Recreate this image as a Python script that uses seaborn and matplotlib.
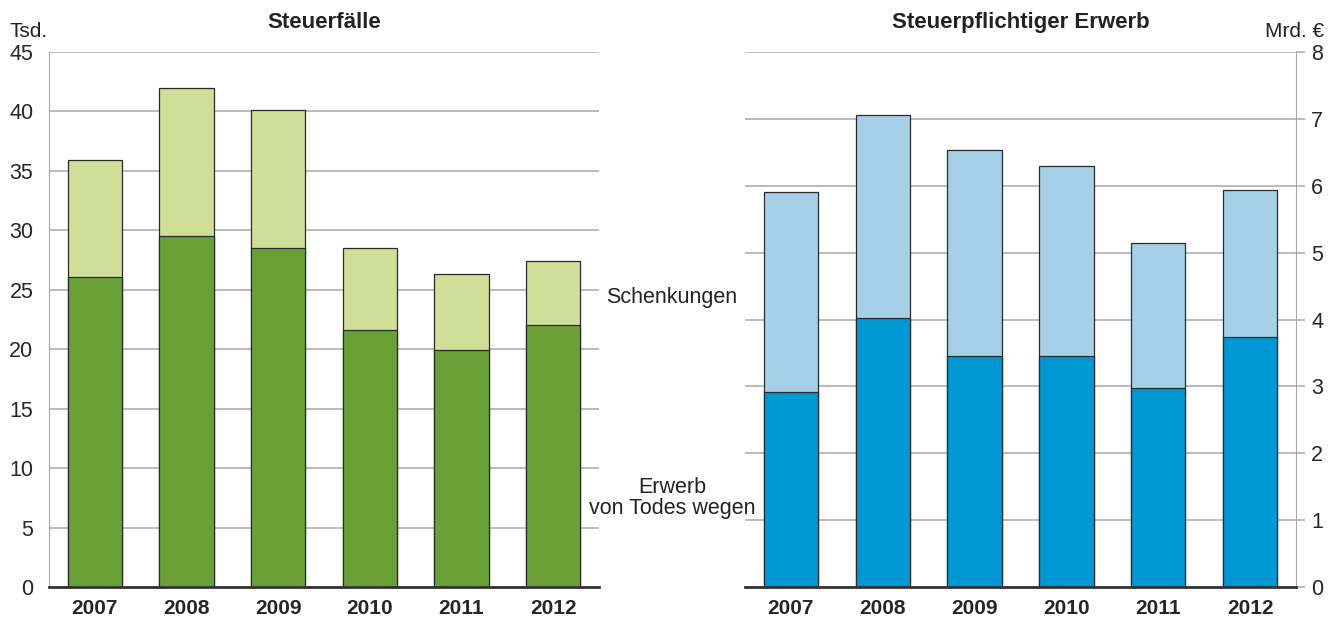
import matplotlib.pyplot as plt
import seaborn as sns

# Data
years = ["2007", "2008", "2009", "2010", "2011", "2012"]

# Steuerfälle (Tsd.)
faelle_todes = [26.1, 29.5, 28.5, 21.6, 19.9, 22.0]
faelle_gesamt = [35.9, 42.0, 40.1, 28.5, 26.35, 27.4]

# Steuerpflichtiger Erwerb (Mrd. €)
erwerb_todes = [2.92, 4.02, 3.45, 3.46, 2.98, 3.74]
erwerb_gesamt = [5.91, 7.06, 6.53, 6.29, 5.15, 5.93]

GREEN_DARK = "#6aa136"
GREEN_LIGHT = "#d0de98"
BLUE_DARK = "#0098d4"
BLUE_LIGHT = "#a5d0e8"
GRID = "#a8a8a8"
EDGE = "#2a2a2a"

W, H = 1336, 623

sns.set_style("white")
plt.rcParams["font.family"] = ["Liberation Sans", "DejaVu Sans"]
plt.rcParams["text.color"] = "#222222"

fig = plt.figure(figsize=(W / 100, H / 100), dpi=100)
# axes placed in pixel terms: left panel 49..599, right panel 745..1296, y 52..587
ax1 = fig.add_axes([49 / W, 1 - 587 / H, 550 / W, 535 / H])
ax2 = fig.add_axes([745 / W, 1 - 587 / H, 551 / W, 535 / H])


def stacked(ax, total, lower, light, dark):
    sns.barplot(x=years, y=total, color=light, width=0.59, edgecolor=EDGE,
                linewidth=0.9, saturation=1, ax=ax, zorder=3)
    sns.barplot(x=years, y=lower, color=dark, width=0.59, edgecolor=EDGE,
                linewidth=0.9, saturation=1, ax=ax, zorder=3)
    ax.grid(axis="y", color=GRID, linewidth=1.1, zorder=0)
    ax.set_axisbelow(True)
    ax.set_xlabel("")
    ax.set_ylabel("")
    ax.set_xlim(-0.5, 5.5)
    for s in ["top", "left", "right"]:
        ax.spines[s].set_visible(False)
    ax.spines["bottom"].set_color("#333333")
    ax.spines["bottom"].set_linewidth(2)
    ax.spines["bottom"].set_zorder(5)
    ax.tick_params(axis="x", length=0, pad=9, labelsize=15)
    for lbl in ax.get_xticklabels():
        lbl.set_fontweight("bold")
    ax.tick_params(axis="y", color=GRID, width=1.1, labelsize=15.5)


# Left: Steuerfälle
stacked(ax1, faelle_gesamt, faelle_todes, GREEN_LIGHT, GREEN_DARK)
ax1.set_ylim(0, 45)
ax1.set_yticks(range(0, 46, 5))
ax1.tick_params(axis="y", length=5.8, pad=5.5)
ax1.spines["left"].set_visible(True)
ax1.spines["left"].set_color(GRID)
ax1.set_title("Steuerfälle", fontsize=16, fontweight="bold", pad=17)

# Right: Steuerpflichtiger Erwerb
stacked(ax2, erwerb_gesamt, erwerb_todes, BLUE_LIGHT, BLUE_DARK)
ax2.set_ylim(0, 8)
ax2.set_yticks(range(0, 9))
ax2.yaxis.tick_right()
ax2.tick_params(axis="y", length=6.5, pad=4.3)
ax2.spines["right"].set_visible(True)
ax2.spines["right"].set_color(GRID)
ax2.set_title("Steuerpflichtiger Erwerb", fontsize=16, fontweight="bold", pad=17)

# Unit labels
fig.text(10 / W, 1 - 37 / H, "Tsd.", ha="left", va="baseline", fontsize=15)
fig.text(1324 / W, 1 - 37 / H, "Mrd. €", ha="right", va="baseline", fontsize=15)

# Legend labels between the panels
fig.text(672 / W, 1 - 297 / H, "Schenkungen", ha="center", va="center", fontsize=15.5)
fig.text(672 / W, 1 - 498 / H, "Erwerb\nvon Todes wegen", ha="center", va="center",
         fontsize=15.5, linespacing=1.0)

fig.savefig("out.png", dpi=100)
